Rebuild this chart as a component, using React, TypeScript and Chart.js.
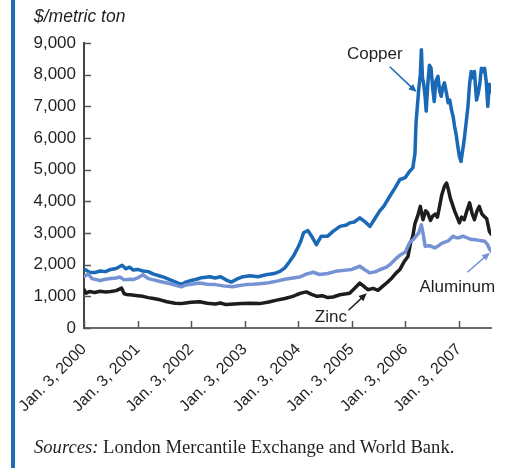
import React, { useEffect, useRef } from "react";
import { Chart, registerables } from "chart.js";

Chart.register(...registerables);

// ---- data (x = years since Jan. 3, 2000) ----
const yearTicks = [0, 1, 2, 3, 4, 5, 6, 7];
const xTickLabels = [
  "Jan. 3, 2000", "Jan. 3, 2001", "Jan. 3, 2002", "Jan. 3, 2003",
  "Jan. 3, 2004", "Jan. 3, 2005", "Jan. 3, 2006", "Jan. 3, 2007",
];
const yTicks = [0, 1000, 2000, 3000, 4000, 5000, 6000, 7000, 8000, 9000];

const copperT = [
  0.00, 0.05, 0.10, 0.20, 0.30, 0.40, 0.50, 0.60, 0.71, 0.78, 0.85, 0.92,
  1.00, 1.10, 1.20, 1.30, 1.40, 1.50, 1.60, 1.70, 1.82, 1.90,
  2.00, 2.10, 2.20, 2.35, 2.45, 2.55, 2.65, 2.75, 2.85, 2.97,
  3.10, 3.25, 3.40, 3.55, 3.66, 3.75, 3.84, 3.92,
  4.00, 4.05, 4.10, 4.18, 4.25, 4.34, 4.43, 4.55, 4.65, 4.78, 4.90, 4.96,
  5.05, 5.15, 5.25, 5.34, 5.43, 5.52, 5.60, 5.71, 5.80, 5.90,
  6.00, 6.08, 6.14, 6.18, 6.20, 6.25, 6.28, 6.30, 6.32, 6.34, 6.37, 6.39,
  6.42, 6.45, 6.48, 6.51, 6.54, 6.57, 6.61, 6.64, 6.67, 6.70, 6.73, 6.77,
  6.80, 6.83, 6.86, 6.89, 6.92, 6.95, 6.98,
  7.01, 7.04, 7.07, 7.10, 7.13, 7.17, 7.20, 7.23, 7.26, 7.29, 7.33, 7.36,
  7.39, 7.42, 7.45, 7.48, 7.51, 7.54, 7.57, 7.60,
];
const copperV = [
  1850, 1820, 1760, 1750, 1800, 1780, 1850, 1880, 1980, 1870, 1920, 1830,
  1850, 1800, 1780, 1700, 1650, 1600, 1530, 1460, 1370, 1450,
  1500, 1540, 1590, 1620, 1580, 1620, 1520, 1450, 1540, 1620,
  1650, 1620, 1680, 1720, 1790, 1900, 2100, 2300,
  2560, 2750, 3010, 3080, 2900, 2630, 2900, 2900, 3050, 3210, 3250, 3320,
  3350, 3480, 3350, 3210, 3450, 3690, 3850, 4160, 4400, 4690,
  4750, 4950, 5050, 5500, 6480, 7530, 8000, 8790, 7900, 7750, 7300, 6850,
  7700, 8300, 8210, 7600, 7150, 7800, 7950, 7500, 7320, 7600, 7740, 7400,
  7110, 7200, 6900, 6700, 6370, 6100, 5740,
  5420, 5260, 5600, 5950, 6400, 7000, 7700, 8100, 7900, 8100, 7200, 7400,
  7700, 8200, 8100, 8200, 7800, 7000, 7700, 7450,
];

const aluminumT = [
  0.00, 0.08, 0.15, 0.25, 0.30, 0.40, 0.50, 0.60, 0.67, 0.75, 0.85, 0.92,
  1.00, 1.10, 1.20, 1.30, 1.42, 1.55, 1.65, 1.75, 1.82, 1.90,
  2.00, 2.16, 2.30, 2.45, 2.60, 2.78, 2.90,
  3.03, 3.15, 3.28, 3.45, 3.60, 3.75, 3.90,
  4.03, 4.15, 4.28, 4.40, 4.55, 4.70, 4.85,
  5.00, 5.15, 5.25, 5.34, 5.45, 5.52, 5.65, 5.71, 5.80, 5.90,
  6.00, 6.08, 6.15, 6.20, 6.25, 6.30, 6.34, 6.37, 6.45, 6.55, 6.62, 6.70,
  6.80, 6.89, 6.95, 7.00, 7.08, 7.15, 7.22, 7.30, 7.40, 7.48, 7.53, 7.57, 7.61,
];
const aluminumV = [
  1630, 1700, 1560, 1520, 1500, 1540, 1560, 1580, 1610, 1520, 1540, 1530,
  1580, 1680, 1560, 1520, 1470, 1420, 1380, 1330, 1300, 1360,
  1380, 1420, 1380, 1370, 1330, 1300, 1340,
  1370, 1380, 1400, 1430, 1480, 1540, 1580,
  1610, 1700, 1760, 1690, 1720, 1790, 1820,
  1850, 1950, 1830, 1740, 1780, 1840, 1920, 2000, 2150, 2300,
  2400, 2690, 2800, 2900, 3000, 3260, 2900, 2580, 2600, 2530, 2600, 2690,
  2750, 2900, 2850, 2850, 2900, 2850, 2800, 2790, 2760, 2740, 2650, 2500, 2420,
];

const zincT = [
  0.00, 0.04, 0.10, 0.20, 0.30, 0.40, 0.50, 0.60, 0.70, 0.75, 0.80, 0.90,
  1.00, 1.10, 1.20, 1.30, 1.42, 1.55, 1.70, 1.80, 1.90,
  2.00, 2.16, 2.30, 2.45, 2.55, 2.65, 2.80, 2.95,
  3.10, 3.28, 3.45, 3.60, 3.75, 3.90, 3.97,
  4.05, 4.15, 4.25, 4.35, 4.45, 4.55, 4.65, 4.78, 4.90, 4.96,
  5.05, 5.15, 5.22, 5.30, 5.40, 5.49, 5.58, 5.65, 5.75, 5.83, 5.90, 5.98,
  6.05, 6.10, 6.14, 6.18, 6.23, 6.28, 6.33, 6.38, 6.42, 6.47, 6.51, 6.56,
  6.60, 6.64, 6.68, 6.73, 6.77, 6.80, 6.84, 6.87, 6.92, 6.96,
  7.01, 7.05, 7.10, 7.15, 7.20, 7.25, 7.29, 7.34, 7.38, 7.43, 7.47, 7.52, 7.57, 7.61,
];
const zincV = [
  1210, 1100, 1150, 1120, 1160, 1140, 1150, 1180, 1260, 1080, 1060, 1040,
  1020, 1000, 960, 930, 890, 830, 780, 770, 790,
  810, 830, 780, 760, 790, 740, 760, 770,
  780, 770, 820, 880, 930, 1000, 1050,
  1100, 1140, 1060, 1000, 1020, 960, 980, 1050, 1080, 1100,
  1250, 1420, 1320, 1210, 1250, 1190, 1320, 1420, 1580, 1740, 1850, 2100,
  2260, 2700, 2900, 3300, 3530, 3840, 3420, 3700, 3630, 3400, 3530, 3600,
  3500, 3840, 4200, 4470, 4580, 4400, 4100, 3950, 3700, 3530,
  3320, 3500, 3420, 3700, 3950, 3600, 3420, 3700, 3840, 3600, 3530, 3450, 3050, 2950,
];

// annotations (data coordinates)
const annotationLabels = ["Copper", "Zinc", "Aluminum"];
const annotationTextAt = [[5.43, 8650], [4.61, 330], [6.97, 1300]];
const annotationArrowFrom = [[5.71, 8250], [4.94, 560], [7.16, 1760]];
const annotationArrowTo = [[6.21, 7450], [5.28, 1100], [7.58, 2380]];

const COPPER = "#1a69b6";
const ALUMINUM = "#7593d4";
const ZINC = "#1d1d1d";
const AXIS = "#555555";
const TEXT = "#231f20";
const arrowColors = [COPPER, ZINC, ALUMINUM];

const pts = (t: number[], v: number[]) => t.map((x, i) => ({ x, y: v[i] }));

const decorPlugin = {
  id: "decor",
  afterDatasetsDraw(chart: any) {
    const { ctx, chartArea, scales } = chart;
    const xs = scales.x;
    const ys = scales.y;
    ctx.save();
    // inward tick marks
    ctx.strokeStyle = AXIS;
    ctx.lineWidth = 1.5;
    yTicks.forEach((v) => {
      const y = Math.round(ys.getPixelForValue(v)) + 0.5;
      ctx.beginPath();
      ctx.moveTo(chartArea.left, y);
      ctx.lineTo(chartArea.left + 7, y);
      ctx.stroke();
    });
    yearTicks.forEach((v) => {
      const x = Math.round(xs.getPixelForValue(v)) + 0.5;
      ctx.beginPath();
      ctx.moveTo(x, chartArea.bottom);
      ctx.lineTo(x, chartArea.bottom - 7);
      ctx.stroke();
    });
    // annotations
    ctx.font = '17px "Liberation Sans", Arial, sans-serif';
    ctx.textAlign = "center";
    ctx.textBaseline = "middle";
    annotationLabels.forEach((label, i) => {
      ctx.fillStyle = TEXT;
      ctx.fillText(label, xs.getPixelForValue(annotationTextAt[i][0]), ys.getPixelForValue(annotationTextAt[i][1]));
      const x1 = xs.getPixelForValue(annotationArrowFrom[i][0]);
      const y1 = ys.getPixelForValue(annotationArrowFrom[i][1]);
      const x2 = xs.getPixelForValue(annotationArrowTo[i][0]);
      const y2 = ys.getPixelForValue(annotationArrowTo[i][1]);
      const ang = Math.atan2(y2 - y1, x2 - x1);
      ctx.strokeStyle = arrowColors[i];
      ctx.fillStyle = arrowColors[i];
      ctx.lineWidth = 1.5;
      ctx.beginPath();
      ctx.moveTo(x1, y1);
      ctx.lineTo(x2 - 5 * Math.cos(ang), y2 - 5 * Math.sin(ang));
      ctx.stroke();
      const hl = 8, hw = 3.5;
      ctx.beginPath();
      ctx.moveTo(x2, y2);
      ctx.lineTo(x2 - hl * Math.cos(ang) + hw * Math.sin(ang), y2 - hl * Math.sin(ang) - hw * Math.cos(ang));
      ctx.lineTo(x2 - hl * Math.cos(ang) - hw * Math.sin(ang), y2 - hl * Math.sin(ang) + hw * Math.cos(ang));
      ctx.closePath();
      ctx.fill();
    });
    ctx.restore();
  },
};

export default function App() {
  const ref = useRef<HTMLCanvasElement | null>(null);
  useEffect(() => {
    if (!ref.current) return;
    const chart = new Chart(ref.current, {
      type: "line",
      data: {
        datasets: [
          { label: "Aluminum", data: pts(aluminumT, aluminumV), borderColor: ALUMINUM, borderWidth: 3.5 },
          { label: "Zinc", data: pts(zincT, zincV), borderColor: ZINC, borderWidth: 3.5 },
          { label: "Copper", data: pts(copperT, copperV), borderColor: COPPER, borderWidth: 3.5 },
        ],
      },
      options: {
        animation: false,
        responsive: false,
        maintainAspectRatio: false,
        parsing: false as any,
        elements: { point: { radius: 0 }, line: { tension: 0, borderJoinStyle: "round", borderCapStyle: "round" } },
        layout: { padding: { left: 0, top: 43, right: 14, bottom: 0 } },
        plugins: { legend: { display: false }, tooltip: { enabled: false } },
        scales: {
          x: {
            type: "linear",
            min: 0,
            max: 7.6,
            grid: { display: false, drawTicks: false },
            border: { display: true, color: "#6a6a6a", width: 2 },
            afterFit: (s: any) => { s.height = 140; },
            afterBuildTicks: (s: any) => { s.ticks = yearTicks.map((v) => ({ value: v })); },
            ticks: {
              autoSkip: false,
              minRotation: 45,
              maxRotation: 45,
              padding: 12,
              color: TEXT,
              font: { size: 16, family: '"Liberation Sans", Arial, sans-serif' },
              callback: (v: any) => xTickLabels[yearTicks.indexOf(Number(v))] ?? "",
            },
          },
          y: {
            type: "linear",
            min: 0,
            max: 9000,
            grid: { display: false, drawTicks: false },
            border: { display: true, color: "#444444", width: 2 },
            afterFit: (s: any) => { s.width = 84; },
            afterBuildTicks: (s: any) => { s.ticks = yTicks.map((v) => ({ value: v })); },
            ticks: {
              padding: 8,
              color: TEXT,
              font: { size: 17, family: '"Liberation Sans", Arial, sans-serif' },
              callback: (v: any) => Number(v).toLocaleString("en-US"),
            },
          },
        },
      },
      plugins: [decorPlugin],
    });
    return () => chart.destroy();
  }, []);

  return (
    <div style={{ position: "fixed", left: 0, top: 0, width: 505, height: 468, background: "#fff", overflow: "hidden" }}>
      <div style={{ position: "absolute", left: 11, top: 0, width: 4, height: 468, background: "#1f6cb8" }} />
      <canvas ref={ref} width={505} height={468} style={{ position: "absolute", left: 0, top: 0, width: 505, height: 468 }} />
      <div
        style={{
          position: "absolute", left: 34, top: 6, fontFamily: '"Liberation Sans", Arial, sans-serif',
          fontStyle: "italic", fontSize: 17.5, lineHeight: "20px", color: TEXT, whiteSpace: "nowrap",
        }}
      >
        $/metric ton
      </div>
      <div
        style={{
          position: "absolute", left: 34, top: 436, fontFamily: '"Liberation Serif", "Times New Roman", serif',
          fontSize: 18.6, lineHeight: "22px", color: TEXT, whiteSpace: "nowrap",
        }}
      >
        <i>Sources:</i> London Mercantile Exchange and World Bank.
      </div>
    </div>
  );
}
